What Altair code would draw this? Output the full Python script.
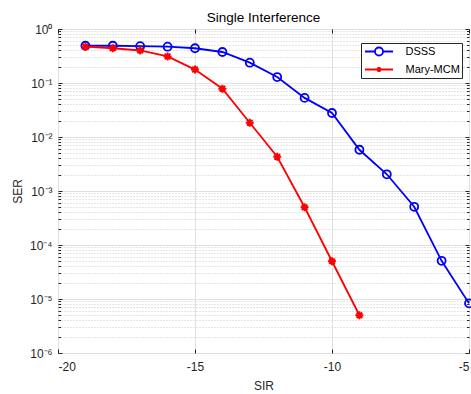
import altair as alt
import pandas as pd

# ---------------- data ----------------
series_names = ["DSSS", "Mary-MCM"]
series_colors = ["#0000ff", "#ff0000"]

sir_dsss = [-19, -18, -17, -16, -15, -14, -13, -12, -11, -10, -9, -8, -7, -6, -5]
ser_dsss = [0.49, 0.49, 0.48, 0.47, 0.44, 0.375, 0.238, 0.129, 0.053, 0.0278,
            0.0058, 0.00204, 5.1e-4, 5.1e-5, 8.3e-6]

sir_mary = [-19, -18, -17, -16, -15, -14, -13, -12, -11, -10, -9]
ser_mary = [0.47, 0.44, 0.40, 0.31, 0.177, 0.0785, 0.0184, 0.0043, 5.0e-4, 5.0e-5, 5.0e-6]

x_major = [-20, -15, -10, -5]
y_major = [1, 1e-1, 1e-2, 1e-3, 1e-4, 1e-5, 1e-6]
y_minor = [m * 10.0 ** k for k in range(-6, 0) for m in range(2, 10)]

df = pd.concat([
    pd.DataFrame({"sir": sir_dsss, "ser": ser_dsss, "series": series_names[0]}),
    pd.DataFrame({"sir": sir_mary, "ser": ser_mary, "series": series_names[1]}),
], ignore_index=True)

# ---------------- layout ----------------
W, H = 411, 324
FONT = "Liberation Sans"
DARK = "#262626"

xs = alt.Scale(domain=[-20, -5], nice=False, zero=False)
ys = alt.Scale(type="log", domain=[1e-6, 1], nice=False)

base = alt.Chart(df)


def axis_layer(xaxis, yaxis):
    return base.mark_point(opacity=0).encode(
        x=alt.X("sir:Q", scale=xs, axis=xaxis),
        y=alt.Y("ser:Q", scale=ys, axis=yaxis),
    )


def tick_axis(orient, offset, values, size):
    return alt.Axis(orient=orient, offset=offset, values=values, tickSize=size,
                    tickColor=DARK, tickWidth=1, labels=False, title=None,
                    grid=False, domain=False)


sup = "['\u2070','\u207b\u00b9','\u207b\u00b2','\u207b\u00b3','\u207b\u2074','\u207b\u2075','\u207b\u2076']"
label_expr = "'10' + " + sup + "[round(-log(datum.value)/LN10)]"

minor_grid = axis_layer(
    None,
    alt.Axis(orient="left", values=y_minor, grid=True, gridDash=[1, 2],
             gridColor="#cdcdcd", gridWidth=1, labels=False, ticks=False,
             domain=False, title=None),
)

main_axes = axis_layer(
    alt.Axis(orient="bottom", values=x_major, grid=True, gridColor="#e0e0e0",
             ticks=False, domain=False, labelExpr="datum.value + ''",
             labelFont=FONT, labelFontSize=12, labelColor=DARK, labelPadding=8,
             title="SIR", titleFont=FONT, titleFontSize=12,
             titleFontWeight="normal", titleColor=DARK, titlePadding=8),
    alt.Axis(orient="left", values=y_major, grid=True, gridColor="#e0e0e0",
             ticks=False, domain=False, labelExpr=label_expr, labelFont=FONT,
             labelFontSize=12, labelColor=DARK, labelPadding=6,
             title="SER", titleFont=FONT, titleFontSize=12,
             titleFontWeight="normal", titleColor=DARK, titlePadding=5),
)

# inward ticks on all four sides of the box
ticks_a = axis_layer(tick_axis("top", -H, x_major, 4), tick_axis("right", -W, y_major, 4))
ticks_b = axis_layer(tick_axis("bottom", -H, x_major, 4), tick_axis("left", -W, y_major, 4))
ticks_c = axis_layer(None, tick_axis("right", -W, y_minor, 2.5))
ticks_d = axis_layer(None, tick_axis("left", -W, y_minor, 2.5))

ASTERISK = "M-1,0L1,0M0,-1L0,1M-0.7,-0.7L0.7,0.7M-0.7,0.7L0.7,-0.7"


def series_layers(name, color, shape, size, sw):
    b = base.transform_filter(alt.datum.series == name)
    enc = dict(x=alt.X("sir:Q", scale=xs, axis=None), y=alt.Y("ser:Q", scale=ys, axis=None))
    ln = b.mark_line(strokeWidth=1.8, color=color).encode(**enc)
    pt = b.mark_point(shape=shape, filled=False, size=size, strokeWidth=sw,
                      color=color, opacity=1).encode(**enc)
    return [ln, pt]


# legend symbols: a short line with the marker in its middle (unit = 5.5 px)
LEG_DSSS = ("M-2.55,0L-0.73,0M0.73,0L2.55,0M-0.73,0A0.73,0.73,0,1,1,0.73,0"
            "A0.73,0.73,0,1,1,-0.73,0Z")
LEG_MARY = ("M-2.55,0L2.55,0M-0.45,0L0.45,0M0,-0.45L0,0.45M-0.32,-0.32L0.32,0.32"
            "M-0.32,0.32L0.32,-0.32")

leg = alt.Legend(title=None, orient="none", legendX=303, legendY=14,
                 fillColor="white", strokeColor=DARK, padding=2,
                 labelFont=FONT, labelFontSize=11, labelColor="#000000",
                 symbolSize=121, symbolStrokeWidth=1.8, symbolOffset=9.5,
                 labelOffset=20, symbolOpacity=1, rowPadding=3)

legend_layer = base.mark_point(filled=False, opacity=0).encode(
    x=alt.X("sir:Q", scale=xs, axis=None),
    y=alt.Y("ser:Q", scale=ys, axis=None),
    color=alt.Color("series:N", scale=alt.Scale(domain=series_names, range=series_colors), legend=leg),
    shape=alt.Shape("series:N", scale=alt.Scale(domain=series_names, range=[LEG_DSSS, LEG_MARY]),
                    legend=leg),
)

chart = alt.layer(
    minor_grid, main_axes, ticks_a, ticks_b, ticks_c, ticks_d,
    *series_layers(series_names[0], series_colors[0], "circle", 64, 1.8),
    *series_layers(series_names[1], series_colors[1], ASTERISK, 64, 2),
    legend_layer,
).resolve_scale(
    x="shared", y="shared"
).resolve_axis(
    x="independent", y="independent"
).properties(
    width=W, height=H,
    title=alt.TitleParams("Single Interference", font=FONT, fontSize=13.5,
                          fontWeight="normal", color="#000000", offset=0,
                          baseline="alphabetic", dy=12, anchor="middle"),
    autosize=alt.AutoSizeParams(type="none"),
    padding={"left": 58, "top": 29, "right": 2, "bottom": 41},
    background="white",
).configure_view(stroke=DARK, strokeWidth=1)

chart.save("out.html", embed_options={"renderer": "svg", "actions": False})
